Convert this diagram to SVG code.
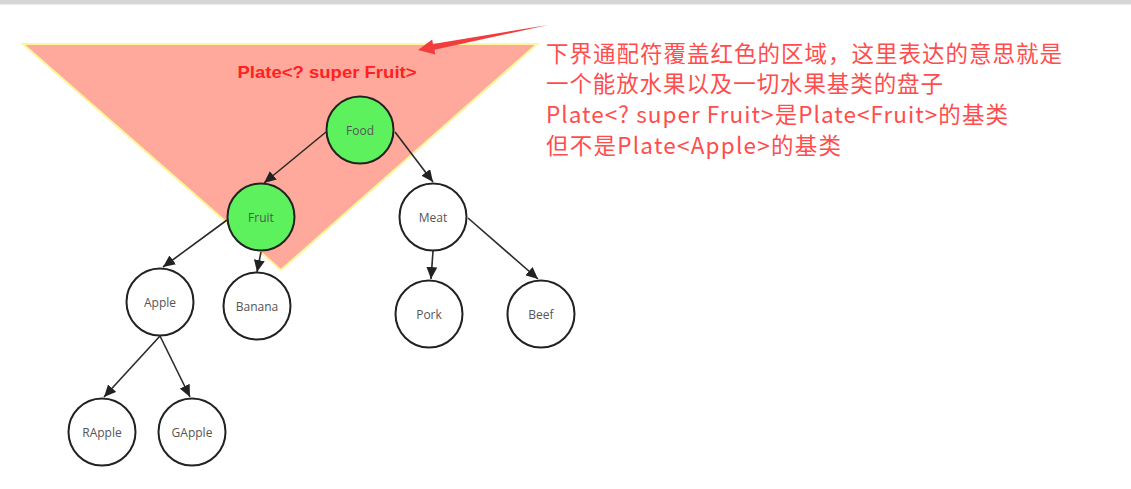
<svg xmlns="http://www.w3.org/2000/svg" width="1131" height="489" viewBox="0 0 1131 489">
<style>
.node circle{stroke:#222;stroke-width:2;fill:#fff}
.node.hi circle{fill:#5df25d}
.node text{font-family:"Open Sans","Noto Sans",sans-serif;font-size:12px;fill:#555;text-anchor:middle;dominant-baseline:central}
.conn line{stroke:#2a2a2a;stroke-width:1.6;marker-end:url(#ah)}
.note{font-family:"Noto Sans CJK SC","Noto Sans",sans-serif;font-size:22.5px;fill:#ff4d4d}
</style>
<defs>
<marker id="ah" markerUnits="userSpaceOnUse" markerWidth="13" markerHeight="11" refX="12" refY="5.5" orient="auto">
<path d="M0,0 L12,5.5 L0,11 Z" fill="#222"/>
</marker>
</defs>
<rect width="1131" height="489" fill="#fff"/>
<rect x="0" y="0" width="1131" height="4" fill="#d6d6d6"/>
<rect x="0" y="4" width="1131" height="1" fill="#ececec"/>
<g id="region">
<polygon points="23,44 537,44 281,270" fill="#ffa99d" stroke="#fff59a" stroke-width="2" stroke-linejoin="miter"/>
<text x="327" y="78" text-anchor="middle" font-family="'Liberation Sans',Arial,sans-serif" font-weight="bold" font-size="16.5" fill="#ff2020" textLength="179" lengthAdjust="spacingAndGlyphs">Plate&lt;? super Fruit&gt;</text>
</g>
<g id="pointer">
<polygon points="418,50 432.2,39.5 433,44 548,25 434.4,49.8 435.4,54.5" fill="#f33c3c"/>
</g>
<g class="conn" id="connectors">
<line x1="326" y1="132" x2="264" y2="183"/>
<line x1="395" y1="132" x2="433" y2="182"/>
<line x1="227" y1="220" x2="163" y2="267"/>
<line x1="261" y1="252" x2="257" y2="272"/>
<line x1="433" y1="251" x2="431" y2="279"/>
<line x1="468" y1="218" x2="538" y2="279"/>
<line x1="160" y1="336" x2="104" y2="397"/>
<line x1="160" y1="336" x2="190" y2="397"/>
</g>
<g id="food" class="node hi"><circle cx="360" cy="130" r="33.5"/><text x="360" y="130">Food</text></g>
<g id="fruit" class="node hi"><circle cx="261" cy="217" r="33.5"/><text x="261" y="217">Fruit</text></g>
<g id="meat" class="node"><circle cx="433" cy="217" r="33.5"/><text x="433" y="217">Meat</text></g>
<g id="apple" class="node"><circle cx="160" cy="302" r="33.5"/><text x="160" y="302">Apple</text></g>
<g id="banana" class="node"><circle cx="257" cy="306" r="33.5"/><text x="257" y="306">Banana</text></g>
<g id="pork" class="node"><circle cx="429" cy="314" r="33.5"/><text x="429" y="314">Pork</text></g>
<g id="beef" class="node"><circle cx="541" cy="314" r="33.5"/><text x="541" y="314">Beef</text></g>
<g id="rapple" class="node"><circle cx="102" cy="432" r="33.5"/><text x="102" y="432">RApple</text></g>
<g id="gapple" class="node"><circle cx="192" cy="432" r="33.5"/><text x="192" y="432">GApple</text></g>
<g id="note">
<text class="note" x="546" y="62" textLength="516" lengthAdjust="spacing">下界通配符覆盖红色的区域，这里表达的意思就是</text>
<text class="note" x="546" y="92" textLength="397" lengthAdjust="spacing">一个能放水果以及一切水果基类的盘子</text>
<text class="note" x="546" y="123" textLength="462" lengthAdjust="spacing">Plate&lt;? super Fruit&gt;是Plate&lt;Fruit&gt;的基类</text>
<text class="note" x="546" y="154" textLength="295" lengthAdjust="spacing">但不是Plate&lt;Apple&gt;的基类</text>
</g>
</svg>
